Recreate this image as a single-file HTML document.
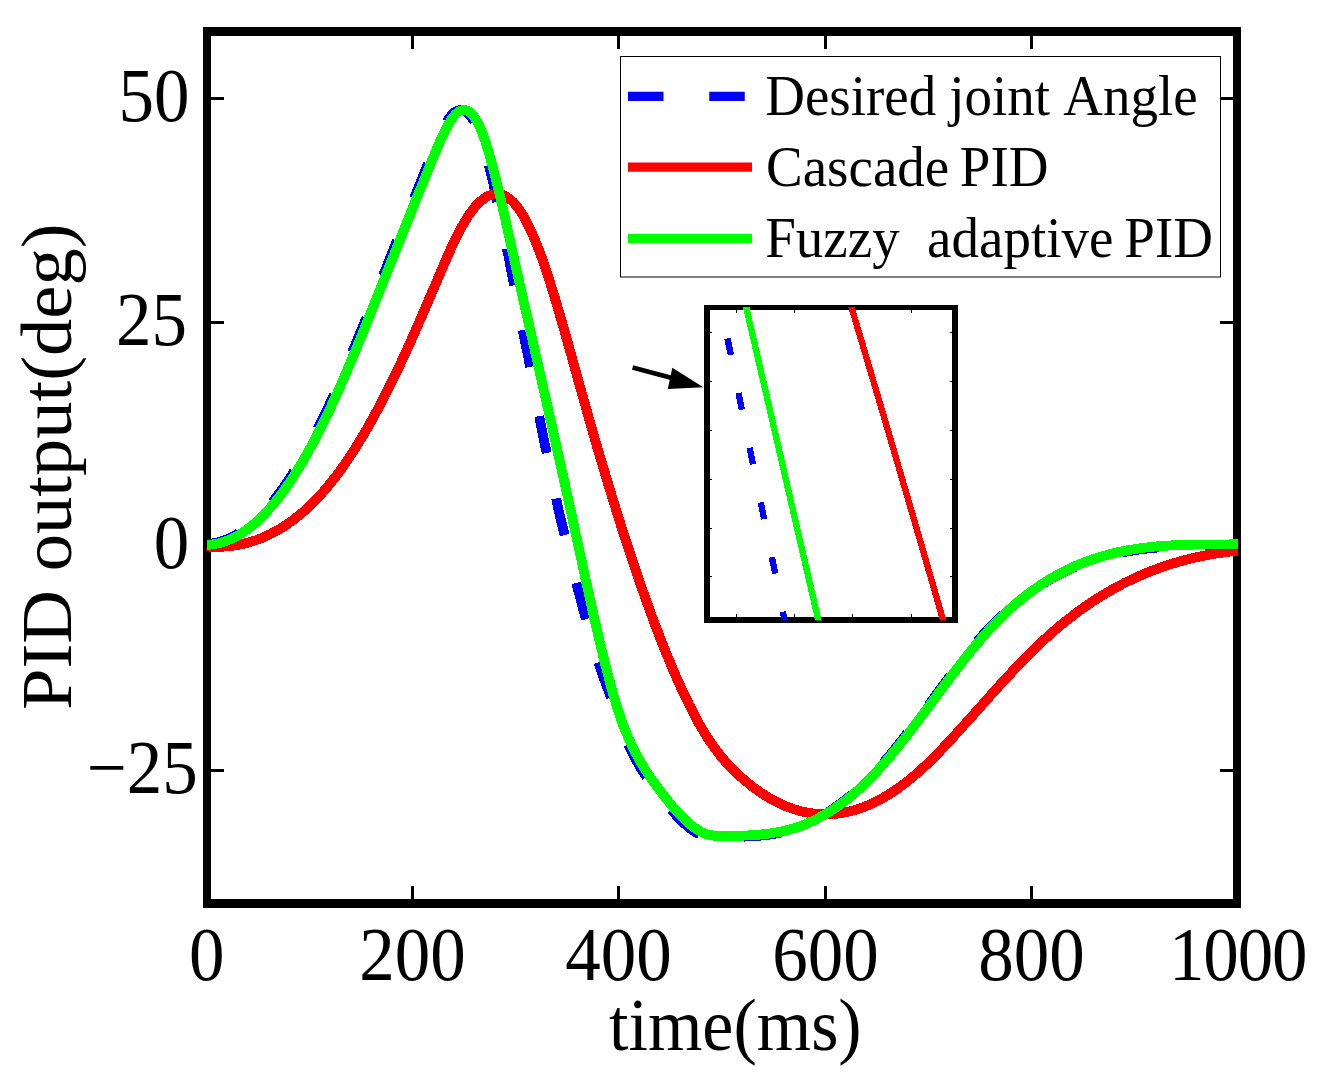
<!DOCTYPE html>
<html><head><meta charset="utf-8"><title>PID output</title>
<style>
html,body{margin:0;padding:0;background:#fff;}
body{width:1324px;height:1073px;overflow:hidden;font-family:"Liberation Serif",serif;}
svg{display:block;}
text{font-family:"Liberation Serif",serif;fill:#000;}
</style></head><body>
<svg width="1324" height="1073" viewBox="0 0 1324 1073">
<rect width="1324" height="1073" fill="#fff"/>

<g fill="#000">
<rect x="203" y="27" width="1038" height="9"/>
<rect x="203" y="899" width="1038" height="9"/>
<rect x="203" y="27" width="8" height="881"/>
<rect x="1233" y="27" width="8" height="881"/>
<rect x="411.0" y="36" width="3" height="13"/>
<rect x="411.0" y="886" width="3" height="13"/>
<rect x="617.0" y="36" width="3" height="13"/>
<rect x="617.0" y="886" width="3" height="13"/>
<rect x="824.0" y="36" width="3" height="13"/>
<rect x="824.0" y="886" width="3" height="13"/>
<rect x="1030.0" y="36" width="3" height="13"/>
<rect x="1030.0" y="886" width="3" height="13"/>
<rect x="211" y="97.0" width="13" height="3"/>
<rect x="1220" y="97.0" width="13" height="3"/>
<rect x="211" y="321.0" width="13" height="3"/>
<rect x="1220" y="321.0" width="13" height="3"/>
<rect x="211" y="545.0" width="13" height="3"/>
<rect x="1220" y="545.0" width="13" height="3"/>
<rect x="211" y="769.0" width="13" height="3"/>
<rect x="1220" y="769.0" width="13" height="3"/>
</g>
<defs><clipPath id="ax"><rect x="206.5" y="31.5" width="1031.5" height="872"/></clipPath><clipPath id="in"><rect x="707" y="307" width="248" height="313.5"/></clipPath></defs>
<g clip-path="url(#ax)" fill="none" stroke-linejoin="round" shape-rendering="crispEdges">
<path d="M206.7,543.9 L207.8,543.9 L208.9,543.8 L210.0,543.7 L211.1,543.6 L212.2,543.4 L213.3,543.3 L214.4,543.1 L215.5,542.8 L216.6,542.6 L217.7,542.4 L218.9,542.1 L220.0,541.8 L221.1,541.4 L222.2,541.1 L223.3,540.7 L224.4,540.3 L225.5,539.9 L226.6,539.5 L227.7,539.0 L228.8,538.5 L229.9,538.0 L231.0,537.5 L232.1,536.9 L233.2,536.4 L234.3,535.8 L235.4,535.2 L236.5,534.5 L237.6,533.9 L238.7,533.2 L239.8,532.5 L240.9,531.7 L242.0,531.0 L243.2,530.2 L244.3,529.4 L245.4,528.6 L246.5,527.7 L247.6,526.8 L248.7,526.0 L249.8,525.0 L250.9,524.1 L252.0,523.1 L253.1,522.2 L254.2,521.1 L255.3,520.1 L256.4,519.1 L257.5,518.0 L258.6,516.9 L259.7,515.8 L260.9,514.7 L262.0,513.5 L263.1,512.4 L264.3,511.2 L265.4,510.0 L266.5,508.7 L267.7,507.5 L268.8,506.2 L269.9,504.9 L271.1,503.5 L272.2,502.2 L273.3,500.8 L274.5,499.4 L275.6,498.0 L276.7,496.6 L277.9,495.1 L279.0,493.6 L280.1,492.1 L281.3,490.5 L282.4,489.0 L283.5,487.4 L284.7,485.8 L285.8,484.1 L286.9,482.5 L288.1,480.8 L289.2,479.1 L290.3,477.3 L291.5,475.6 L292.6,473.8 L293.7,472.0 L294.9,470.2 L296.0,468.4 L297.1,466.5 L298.3,464.6 L299.4,462.7 L300.6,460.7 L301.7,458.7 L302.9,456.7 L304.0,454.7 L305.2,452.7 L306.3,450.6 L307.4,448.5 L308.6,446.4 L309.7,444.3 L310.9,442.1 L312.0,439.9 L313.2,437.8 L314.3,435.6 L315.5,433.3 L316.6,431.1 L317.8,428.8 L318.9,426.5 L320.1,424.2 L321.2,421.9 L322.4,419.5 L323.5,417.2 L324.7,414.8 L325.8,412.4 L326.9,410.0 L328.1,407.5 L329.2,405.1 L330.4,402.6 L331.5,400.1 L332.7,397.6 L333.8,395.0 L335.0,392.5 L336.1,389.9 L337.3,387.3 L338.4,384.8 L339.6,382.1 L340.7,379.5 L341.9,376.9 L343.0,374.2 L344.2,371.5 L345.3,368.8 L346.4,366.2 L347.6,363.4 L348.7,360.7 L349.9,358.0 L351.0,355.2 L352.2,352.5 L353.3,349.7 L354.5,346.9 L355.6,344.1 L356.8,341.4 L357.9,338.5 L359.1,335.7 L360.2,332.9 L361.4,330.1 L362.5,327.3 L363.7,324.4 L364.8,321.6 L366.0,318.7 L367.1,315.9 L368.2,313.0 L369.4,310.1 L370.5,307.3 L371.7,304.4 L372.8,301.5 L374.0,298.6 L375.1,295.8 L376.3,292.9 L377.4,290.0 L378.6,287.1 L379.7,284.2 L380.9,281.3 L382.0,278.5 L383.2,275.6 L384.3,272.7 L385.5,269.8 L386.6,267.0 L387.7,264.1 L388.9,261.2 L390.0,258.3 L391.2,255.5 L392.3,252.6 L393.5,249.7 L394.6,246.9 L395.8,244.0 L396.9,241.1 L398.1,238.3 L399.2,235.4 L400.4,232.6 L401.5,229.7 L402.7,226.8 L403.8,224.0 L405.0,221.1 L406.1,218.3 L407.2,215.4 L408.4,212.6 L409.5,209.8 L410.7,206.9 L411.8,204.1 L413.0,201.2 L414.1,198.4 L415.3,195.5 L416.4,192.7 L417.6,189.9 L418.7,187.0 L419.9,184.2 L421.0,181.4 L422.1,178.5 L423.3,175.7 L424.4,172.9 L425.5,170.0 L426.7,167.2 L427.8,164.4 L428.9,161.5 L430.0,158.7 L431.2,155.9 L432.3,153.1 L433.4,150.3 L434.6,147.6 L435.7,144.9 L436.8,142.3 L438.0,139.6 L439.1,137.1 L440.2,134.6 L441.3,132.2 L442.5,129.9 L443.6,127.7 L444.7,125.5 L445.9,123.5 L447.0,121.6 L448.1,119.8 L449.2,118.1 L450.4,116.6 L451.5,115.2 L452.6,113.9 L453.8,112.9 L454.9,112.0 L456.1,111.3 L457.2,110.8 L458.4,110.4 L459.5,110.1 L460.7,110.0 L461.8,110.1 L463.0,110.3 L464.1,110.7 L465.3,111.2 L466.4,112.0 L467.5,112.9 L468.7,114.0 L469.8,115.2 L471.0,116.7 L472.1,118.3 L473.3,120.1 L474.4,122.2 L475.6,124.4 L476.7,126.8 L477.9,129.5 L479.0,132.3 L480.2,135.3 L481.3,138.5 L482.4,141.9 L483.5,145.4 L484.6,149.1 L485.7,153.0 L486.7,156.9 L487.8,161.1 L488.9,165.3 L490.0,169.7 L491.1,174.1 L492.2,178.7 L493.3,183.4 L494.3,188.1 L495.4,192.9 L496.5,197.8 L497.5,202.7 L498.6,207.7 L499.6,212.8 L500.7,217.8 L501.7,222.9 L502.8,228.1 L503.8,233.2 L504.9,238.3 L505.9,243.5 L506.9,248.6 L508.0,253.8 L509.0,258.9 L510.0,264.0 L510.9,269.2 L511.9,274.3 L512.9,279.4 L513.9,284.5 L514.9,289.6 L515.8,294.7 L516.8,299.8 L517.8,304.8 L518.8,309.9 L519.8,314.9 L520.7,320.0 L521.7,325.1 L522.7,330.1 L523.7,335.2 L524.8,340.2 L525.8,345.3 L526.9,350.3 L527.9,355.4 L528.9,360.4 L529.8,365.5 L530.8,370.5 L531.7,375.6 L532.7,380.7 L533.6,385.7 L534.6,390.8 L535.5,395.9 L536.5,400.9 L537.4,406.0 L538.4,411.1 L539.3,416.2 L540.2,421.3 L541.2,426.4 L542.1,431.5 L543.2,436.6 L544.3,441.7 L545.4,446.9 L546.5,452.0 L547.6,457.1 L548.7,462.3 L549.7,467.4 L550.8,472.6 L551.9,477.8 L553.0,483.0 L554.1,488.2 L555.2,493.4 L556.2,498.6 L557.3,503.8 L558.4,509.0 L559.5,514.3 L560.8,519.5 L562.1,524.8 L563.4,530.1 L564.7,535.4 L566.0,540.7 L567.3,546.0 L568.6,551.3 L569.9,556.6 L571.2,561.8 L572.5,567.1 L573.8,572.4 L575.1,577.7 L576.4,582.9 L577.7,588.1 L579.0,593.3 L580.4,598.5 L581.7,603.7 L583.1,608.8 L584.5,613.9 L585.9,618.9 L587.3,623.9 L588.7,628.9 L590.1,633.8 L591.5,638.7 L592.9,643.6 L594.3,648.3 L595.7,653.1 L597.1,657.8 L598.5,662.4 L599.9,666.9 L601.5,671.4 L603.0,675.8 L604.6,680.2 L606.2,684.4 L607.7,688.6 L609.3,692.7 L610.5,696.7 L611.7,700.7 L612.8,704.5 L614.0,708.2 L615.2,711.8 L616.4,715.3 L617.6,718.7 L618.7,722.0 L619.9,725.1 L621.1,728.1 L622.3,731.1 L623.5,733.9 L624.6,736.7 L625.8,739.3 L627.0,741.9 L628.2,744.4 L629.3,746.9 L630.5,749.3 L631.7,751.7 L632.8,754.0 L634.0,756.2 L635.2,758.4 L636.3,760.5 L637.5,762.5 L638.7,764.6 L639.8,766.5 L641.0,768.5 L642.2,770.4 L643.3,772.2 L644.5,774.0 L645.7,775.8 L646.8,777.5 L648.0,779.3 L649.2,781.0 L650.3,782.6 L651.5,784.3 L652.7,785.9 L653.8,787.5 L655.0,789.1 L656.2,790.7 L657.3,792.3 L658.5,793.8 L659.7,795.4 L660.8,796.9 L662.0,798.4 L663.2,799.9 L664.3,801.3 L665.5,802.8 L666.6,804.2 L667.8,805.7 L669.0,807.1 L670.1,808.4 L671.3,809.8 L672.5,811.2 L673.6,812.5 L674.8,813.8 L676.0,815.1 L677.1,816.3 L678.3,817.6 L679.5,818.8 L680.6,820.0 L681.8,821.1 L682.9,822.2 L684.1,823.3 L685.3,824.4 L686.4,825.4 L687.6,826.4 L688.8,827.4 L689.9,828.3 L691.1,829.2 L692.3,830.0 L693.5,830.8 L694.6,831.5 L695.8,832.2 L697.0,832.8 L698.2,833.4 L699.4,833.9 L700.5,834.5 L701.7,834.9 L702.9,835.4 L704.1,835.7 L705.3,836.1 L706.4,836.4 L707.6,836.6 L708.8,836.9 L710.0,837.0 L711.1,837.2 L712.3,837.3 L713.5,837.4 L714.7,837.5 L715.9,837.5 L717.0,837.5 L718.2,837.5 L719.4,837.5 L720.6,837.5 L721.8,837.4 L722.9,837.4 L724.1,837.3 L725.3,837.2 L726.5,837.2 L727.7,837.1 L728.8,837.0 L730.0,837.0 L731.2,837.0 L732.4,837.0 L733.5,836.9 L734.7,836.9 L735.9,836.9 L737.1,836.8 L738.2,836.8 L739.4,836.8 L740.6,836.7 L741.8,836.7 L742.9,836.6 L744.1,836.6 L745.3,836.6 L746.5,836.5 L747.6,836.5 L748.8,836.4 L750.0,836.3 L751.2,836.3 L752.3,836.2 L753.5,836.1 L754.7,836.1 L755.9,836.0 L757.0,835.9 L758.2,835.8 L759.4,835.7 L760.6,835.6 L761.7,835.5 L762.9,835.4 L764.1,835.3 L765.3,835.2 L766.4,835.0 L767.6,834.9 L768.8,834.8 L770.0,834.6 L771.1,834.4 L772.2,834.2 L773.3,834.0 L774.5,833.8 L775.6,833.6 L776.7,833.4 L777.9,833.2 L779.0,832.9 L780.1,832.7 L781.3,832.4 L782.4,832.2 L783.5,831.9 L784.6,831.6 L785.8,831.3 L786.9,831.0 L788.0,830.7 L789.2,830.4 L790.3,830.0 L791.4,829.7 L792.5,829.3 L793.7,829.0 L794.8,828.6 L795.9,828.2 L797.1,827.8 L798.2,827.4 L799.3,827.0 L800.5,826.5 L801.6,826.1 L802.7,825.6 L803.8,825.1 L805.0,824.7 L806.1,824.2 L807.2,823.7 L808.4,823.1 L809.5,822.6 L810.6,822.1 L811.8,821.5 L812.9,820.9 L814.0,820.4 L815.1,819.8 L816.3,819.2 L817.4,818.6 L818.5,817.9 L819.7,817.3 L820.8,816.7 L821.9,816.0 L823.0,815.3 L824.2,814.6 L825.3,813.9 L826.4,813.2 L827.6,812.5 L828.7,811.8 L829.8,811.0 L831.0,810.3 L832.1,809.5 L833.2,808.7 L834.3,807.9 L835.5,807.1 L836.6,806.3 L837.8,805.5 L838.9,804.7 L840.1,803.8 L841.2,803.0 L842.4,802.1 L843.5,801.2 L844.7,800.3 L845.8,799.4 L847.0,798.5 L848.1,797.6 L849.3,796.6 L850.4,795.7 L851.6,794.7 L852.7,793.7 L853.8,792.7 L855.0,791.7 L856.1,790.7 L857.3,789.7 L858.4,788.6 L859.6,787.6 L860.7,786.5 L861.9,785.4 L863.0,784.3 L864.2,783.2 L865.3,782.1 L866.5,780.9 L867.6,779.8 L868.8,778.6 L869.9,777.4 L871.1,776.3 L872.2,775.1 L873.3,773.8 L874.5,772.6 L875.6,771.4 L876.8,770.1 L877.9,768.9 L879.1,767.6 L880.2,766.3 L881.4,765.0 L882.5,763.7 L883.7,762.4 L884.8,761.1 L886.0,759.7 L887.1,758.4 L888.3,757.0 L889.4,755.7 L890.6,754.3 L891.7,752.9 L892.9,751.5 L894.0,750.1 L895.1,748.7 L896.3,747.3 L897.4,745.9 L898.6,744.5 L899.7,743.0 L900.9,741.6 L902.0,740.1 L903.2,738.7 L904.3,737.2 L905.5,735.7 L906.6,734.2 L907.8,732.8 L908.9,731.3 L910.1,729.8 L911.2,728.3 L912.4,726.8 L913.5,725.2 L914.6,723.7 L915.8,722.2 L916.9,720.7 L918.1,719.2 L919.2,717.6 L920.4,716.1 L921.5,714.6 L922.7,713.0 L923.8,711.5 L925.0,709.9 L926.1,708.4 L927.3,706.8 L928.4,705.3 L929.6,703.7 L930.7,702.2 L931.9,700.6 L933.0,699.1 L934.1,697.5 L935.3,696.0 L936.4,694.4 L937.6,692.9 L938.7,691.3 L939.9,689.8 L941.0,688.2 L942.2,686.7 L943.3,685.1 L944.5,683.6 L945.6,682.0 L946.8,680.5 L947.9,679.0 L949.1,677.4 L950.2,675.9 L951.4,674.4 L952.5,672.9 L953.7,671.4 L954.8,669.9 L955.9,668.4 L957.1,666.9 L958.2,665.4 L959.4,663.9 L960.5,662.4 L961.7,660.9 L962.8,659.4 L964.0,658.0 L965.1,656.5 L966.3,655.1 L967.4,653.6 L968.6,652.2 L969.7,650.8 L970.9,649.4 L972.0,648.0 L973.2,646.6 L974.3,645.2 L975.4,643.8 L976.6,642.4 L977.7,641.0 L978.9,639.7 L980.0,638.4 L981.2,637.0 L982.3,635.7 L983.5,634.4 L984.6,633.1 L985.8,631.9 L987.0,630.6 L988.1,629.4 L989.3,628.1 L990.5,626.9 L991.6,625.7 L992.8,624.5 L993.9,623.3 L995.1,622.2 L996.3,621.0 L997.4,619.8 L998.6,618.7 L999.7,617.6 L1000.9,616.5 L1002.1,615.4 L1003.2,614.3 L1004.4,613.2 L1005.6,612.1 L1006.7,611.1 L1007.9,610.0 L1009.0,609.0 L1010.2,608.0 L1011.4,607.0 L1012.5,606.0 L1013.7,605.0 L1014.9,604.0 L1016.0,603.1 L1017.2,602.1 L1018.3,601.2 L1019.5,600.2 L1020.7,599.3 L1021.8,598.4 L1023.0,597.5 L1024.2,596.6 L1025.3,595.7 L1026.5,594.8 L1027.6,594.0 L1028.8,593.1 L1030.0,592.3 L1031.1,591.5 L1032.3,590.6 L1033.5,589.8 L1034.6,589.0 L1035.8,588.3 L1036.9,587.5 L1038.1,586.7 L1039.3,585.9 L1040.4,585.2 L1041.6,584.4 L1042.8,583.7 L1043.9,583.0 L1045.1,582.3 L1046.2,581.6 L1047.4,580.9 L1048.6,580.2 L1049.7,579.5 L1050.9,578.8 L1052.1,578.2 L1053.2,577.5 L1054.4,576.9 L1055.5,576.3 L1056.7,575.6 L1057.9,575.0 L1059.0,574.4 L1060.2,573.8 L1061.3,573.2 L1062.5,572.7 L1063.6,572.1 L1064.8,571.5 L1065.9,571.0 L1067.1,570.4 L1068.2,569.9 L1069.4,569.3 L1070.5,568.8 L1071.7,568.3 L1072.8,567.8 L1074.0,567.3 L1075.1,566.8 L1076.2,566.3 L1077.4,565.8 L1078.5,565.4 L1079.7,564.9 L1080.8,564.5 L1082.0,564.0 L1083.1,563.6 L1084.3,563.1 L1085.4,562.7 L1086.6,562.3 L1087.7,561.9 L1088.9,561.5 L1090.0,561.1 L1091.2,560.7 L1092.3,560.3 L1093.5,559.9 L1094.6,559.6 L1095.8,559.2 L1096.9,558.9 L1098.0,558.5 L1099.2,558.2 L1100.3,557.8 L1101.5,557.5 L1102.6,557.2 L1103.8,556.9 L1104.9,556.6 L1106.1,556.3 L1107.2,556.0 L1108.4,555.7 L1109.5,555.4 L1110.7,555.1 L1111.8,554.8 L1113.0,554.6 L1114.1,554.3 L1115.3,554.0 L1116.4,553.8 L1117.5,553.5 L1118.7,553.3 L1119.8,553.0 L1121.0,552.8 L1122.1,552.6 L1123.3,552.3 L1124.4,552.1 L1125.6,551.9 L1126.7,551.6 L1127.9,551.4 L1129.0,551.2 L1130.2,551.0 L1131.3,550.8 L1132.5,550.6 L1133.6,550.4 L1134.8,550.3 L1135.9,550.1 L1137.0,549.9 L1138.2,549.7 L1139.3,549.6 L1140.5,549.4 L1141.6,549.2 L1142.8,549.1 L1143.9,548.9 L1145.1,548.8 L1146.2,548.7 L1147.4,548.5 L1148.5,548.4 L1149.7,548.3 L1150.8,548.1 L1152.0,548.0 L1153.1,547.9 L1154.3,547.8 L1155.4,547.7 L1156.6,547.6 L1157.7,547.5 L1158.8,547.4 L1160.0,547.3 L1161.1,547.2 L1162.3,547.1 L1163.4,547.0 L1164.6,546.9 L1165.7,546.8 L1166.9,546.7 L1168.0,546.7 L1169.2,546.6 L1170.3,546.5 L1171.5,546.5 L1172.6,546.4 L1173.8,546.3 L1174.9,546.3 L1176.1,546.2 L1177.2,546.2 L1178.3,546.1 L1179.5,546.1 L1180.6,546.0 L1181.8,546.0 L1182.9,545.9 L1184.1,545.9 L1185.2,545.9 L1186.4,545.8 L1187.5,545.8 L1188.7,545.8 L1189.8,545.7 L1191.0,545.7 L1192.1,545.7 L1193.3,545.7 L1194.4,545.6 L1195.6,545.6 L1196.7,545.6 L1197.8,545.6 L1199.0,545.6 L1200.1,545.5 L1201.3,545.5 L1202.4,545.5 L1203.6,545.5 L1204.7,545.5 L1205.9,545.5 L1207.0,545.5 L1208.2,545.5 L1209.3,545.4 L1210.5,545.4 L1211.6,545.4 L1212.8,545.4 L1213.9,545.4 L1215.1,545.4 L1216.2,545.4 L1217.4,545.4 L1218.5,545.4 L1219.6,545.4 L1220.8,545.4 L1221.9,545.4 L1223.1,545.4 L1224.2,545.4 L1225.4,545.4 L1226.5,545.4 L1227.7,545.4 L1228.8,545.4 L1230.0,545.4 L1231.1,545.4 L1232.3,545.4 L1233.4,545.3 L1234.6,545.3 L1235.7,545.3 L1236.9,545.3 L1238.0,545.3" stroke="#0000ff" stroke-width="9.8" stroke-dasharray="34.0 46.0 37.5 49.1 37.5 46.2 37.5 45.4 37.5 45.7 37.5 46.1 37.5 46.1 37.5 47.7 37.5 45.5 37.5 50.2 37.5 46.6 37.5 49.2 37.5 45.0 37.5 49.8 37.5 41.1 37.5 44.6 37.5 44.6 37.5 44.6 37.5 35.1 37.5 43.5 37.5 48.9 37.5 48.9 37.5 46.5 37.5 46.5 37.5 300"/>
<path d="M206.7,546.4 L207.8,546.5 L209.0,546.6 L210.1,546.6 L211.3,546.7 L212.4,546.7 L213.6,546.8 L214.7,546.8 L215.9,546.8 L217.0,546.8 L218.2,546.8 L219.3,546.8 L220.5,546.7 L221.6,546.7 L222.8,546.6 L223.9,546.6 L225.1,546.5 L226.2,546.4 L227.3,546.3 L228.5,546.2 L229.6,546.1 L230.8,546.0 L231.9,545.8 L233.1,545.7 L234.2,545.5 L235.4,545.3 L236.5,545.2 L237.7,545.0 L238.8,544.7 L240.0,544.5 L241.1,544.3 L242.3,544.0 L243.4,543.8 L244.6,543.5 L245.7,543.2 L246.9,542.9 L248.0,542.6 L249.1,542.3 L250.3,542.0 L251.4,541.7 L252.6,541.3 L253.7,540.9 L254.9,540.5 L256.0,540.2 L257.2,539.7 L258.3,539.3 L259.5,538.9 L260.6,538.5 L261.8,538.0 L262.9,537.5 L264.1,537.0 L265.2,536.5 L266.4,536.0 L267.5,535.5 L268.6,534.9 L269.8,534.4 L270.9,533.8 L272.1,533.2 L273.2,532.6 L274.4,532.0 L275.5,531.4 L276.7,530.8 L277.8,530.1 L279.0,529.4 L280.1,528.8 L281.3,528.1 L282.4,527.4 L283.6,526.6 L284.7,525.9 L285.9,525.1 L287.0,524.3 L288.1,523.6 L289.3,522.8 L290.4,521.9 L291.6,521.1 L292.7,520.3 L293.9,519.4 L295.0,518.5 L296.2,517.6 L297.3,516.7 L298.5,515.8 L299.6,514.8 L300.8,513.9 L301.9,512.9 L303.1,511.9 L304.2,510.9 L305.4,509.9 L306.5,508.8 L307.7,507.8 L308.8,506.7 L309.9,505.6 L311.1,504.5 L312.2,503.4 L313.4,502.2 L314.5,501.1 L315.7,499.9 L316.8,498.7 L318.0,497.5 L319.1,496.2 L320.3,495.0 L321.4,493.7 L322.6,492.5 L323.7,491.2 L324.9,489.8 L326.0,488.5 L327.2,487.2 L328.3,485.8 L329.4,484.4 L330.6,483.0 L331.7,481.6 L332.9,480.1 L334.0,478.7 L335.2,477.2 L336.3,475.7 L337.5,474.2 L338.6,472.6 L339.8,471.1 L340.9,469.5 L342.1,467.9 L343.2,466.3 L344.4,464.7 L345.5,463.0 L346.7,461.3 L347.8,459.6 L348.9,457.9 L350.1,456.2 L351.2,454.5 L352.4,452.7 L353.5,450.9 L354.7,449.1 L355.8,447.3 L357.0,445.5 L358.1,443.6 L359.3,441.7 L360.4,439.8 L361.6,437.9 L362.7,436.0 L363.9,434.1 L365.0,432.1 L366.2,430.1 L367.3,428.1 L368.5,426.1 L369.6,424.1 L370.7,422.0 L371.9,420.0 L373.0,417.9 L374.2,415.8 L375.3,413.7 L376.5,411.6 L377.6,409.4 L378.8,407.3 L379.9,405.1 L381.1,402.9 L382.2,400.7 L383.4,398.5 L384.5,396.2 L385.7,394.0 L386.8,391.7 L388.0,389.4 L389.1,387.1 L390.2,384.8 L391.4,382.5 L392.5,380.2 L393.7,377.8 L394.8,375.4 L396.0,373.1 L397.1,370.7 L398.3,368.3 L399.4,365.8 L400.6,363.4 L401.7,361.0 L402.9,358.5 L404.0,356.0 L405.2,353.5 L406.3,351.0 L407.5,348.5 L408.6,346.0 L409.7,343.5 L410.9,340.9 L412.0,338.3 L413.2,335.8 L414.3,333.2 L415.5,330.6 L416.6,328.0 L417.8,325.4 L418.9,322.8 L420.1,320.1 L421.2,317.5 L422.4,314.9 L423.5,312.2 L424.7,309.6 L425.8,306.9 L427.0,304.2 L428.1,301.6 L429.2,298.9 L430.4,296.2 L431.5,293.5 L432.7,290.8 L433.8,288.1 L435.0,285.5 L436.1,282.8 L437.3,280.1 L438.4,277.4 L439.6,274.7 L440.7,272.0 L441.9,269.3 L443.0,266.6 L444.2,263.9 L445.3,261.3 L446.5,258.7 L447.6,256.0 L448.8,253.4 L449.9,250.9 L451.0,248.4 L452.2,245.9 L453.3,243.4 L454.5,241.0 L455.6,238.6 L456.8,236.3 L457.9,234.0 L459.1,231.7 L460.2,229.5 L461.4,227.4 L462.5,225.4 L463.7,223.4 L464.8,221.4 L466.0,219.6 L467.1,217.7 L468.3,216.0 L469.4,214.3 L470.5,212.7 L471.7,211.1 L472.8,209.6 L474.0,208.2 L475.1,206.8 L476.3,205.5 L477.4,204.3 L478.6,203.2 L479.7,202.1 L480.9,201.0 L482.0,200.1 L483.2,199.2 L484.3,198.4 L485.5,197.6 L486.6,196.9 L487.8,196.3 L488.9,195.8 L490.0,195.3 L491.2,194.9 L492.3,194.6 L493.5,194.4 L494.6,194.2 L495.8,194.1 L496.9,194.0 L498.1,194.1 L499.2,194.2 L500.4,194.4 L501.5,194.7 L502.7,195.0 L503.8,195.5 L505.0,196.0 L506.1,196.6 L507.3,197.3 L508.4,198.0 L509.6,198.9 L510.7,199.8 L511.8,200.8 L513.0,201.9 L514.1,203.1 L515.3,204.4 L516.4,205.8 L517.6,207.2 L518.7,208.8 L519.9,210.4 L521.0,212.2 L522.2,214.0 L523.3,215.9 L524.5,217.9 L525.6,220.0 L526.8,222.2 L527.9,224.4 L529.1,226.8 L530.2,229.2 L531.3,231.7 L532.5,234.3 L533.6,236.9 L534.8,239.7 L535.9,242.5 L537.1,245.4 L538.2,248.3 L539.4,251.3 L540.5,254.4 L541.7,257.5 L542.8,260.8 L544.0,264.0 L545.1,267.4 L546.3,270.8 L547.4,274.2 L548.6,277.7 L549.7,281.3 L550.8,284.9 L552.0,288.6 L553.1,292.3 L554.3,296.1 L555.4,299.9 L556.6,303.7 L557.7,307.6 L558.9,311.5 L560.0,315.5 L561.2,319.5 L562.3,323.5 L563.5,327.5 L564.6,331.5 L565.8,335.6 L566.9,339.7 L568.1,343.8 L569.2,347.9 L570.4,352.0 L571.5,356.1 L572.6,360.3 L573.8,364.4 L574.9,368.5 L576.1,372.6 L577.2,376.7 L578.4,380.9 L579.5,385.0 L580.7,389.1 L581.8,393.2 L583.0,397.3 L584.1,401.4 L585.3,405.4 L586.4,409.5 L587.6,413.5 L588.7,417.6 L589.9,421.6 L591.0,425.6 L592.1,429.6 L593.3,433.6 L594.4,437.6 L595.6,441.5 L596.7,445.5 L597.9,449.4 L599.0,453.3 L600.2,457.2 L601.3,461.1 L602.5,465.0 L603.6,468.8 L604.8,472.7 L605.9,476.5 L607.1,480.3 L608.2,484.1 L609.4,487.9 L610.5,491.7 L611.6,495.4 L612.8,499.2 L613.9,502.9 L615.1,506.6 L616.2,510.3 L617.4,514.0 L618.5,517.6 L619.7,521.3 L620.8,524.9 L622.0,528.5 L623.1,532.1 L624.3,535.7 L625.4,539.2 L626.6,542.7 L627.7,546.3 L628.9,549.8 L630.0,553.3 L631.2,556.7 L632.3,560.2 L633.4,563.6 L634.6,567.0 L635.7,570.4 L636.9,573.8 L638.0,577.1 L639.2,580.5 L640.3,583.8 L641.5,587.1 L642.6,590.4 L643.8,593.6 L644.9,596.9 L646.1,600.1 L647.2,603.3 L648.4,606.5 L649.5,609.6 L650.7,612.7 L651.8,615.9 L652.9,619.0 L654.1,622.0 L655.2,625.1 L656.4,628.1 L657.5,631.1 L658.7,634.1 L659.8,637.1 L661.0,640.0 L662.1,642.9 L663.3,645.8 L664.4,648.7 L665.6,651.6 L666.7,654.4 L667.9,657.2 L669.0,660.0 L670.2,662.7 L671.3,665.5 L672.4,668.2 L673.6,670.9 L674.7,673.5 L675.9,676.2 L677.0,678.8 L678.2,681.4 L679.3,683.9 L680.5,686.5 L681.6,689.0 L682.8,691.5 L683.9,693.9 L685.1,696.4 L686.2,698.8 L687.4,701.1 L688.5,703.5 L689.7,705.8 L690.8,708.1 L692.0,710.3 L693.1,712.6 L694.2,714.8 L695.4,716.9 L696.5,719.0 L697.7,721.1 L698.8,723.2 L700.0,725.2 L701.1,727.2 L702.3,729.2 L703.4,731.1 L704.6,733.0 L705.7,734.9 L706.9,736.7 L708.0,738.5 L709.2,740.2 L710.3,742.0 L711.5,743.6 L712.6,745.3 L713.7,746.9 L714.9,748.5 L716.0,750.0 L717.2,751.5 L718.3,753.0 L719.5,754.4 L720.6,755.9 L721.8,757.3 L722.9,758.6 L724.1,760.0 L725.2,761.3 L726.4,762.6 L727.5,763.8 L728.7,765.1 L729.8,766.3 L731.0,767.5 L732.1,768.6 L733.2,769.8 L734.4,770.9 L735.5,772.0 L736.7,773.1 L737.8,774.2 L739.0,775.2 L740.1,776.3 L741.3,777.3 L742.4,778.3 L743.6,779.3 L744.7,780.3 L745.9,781.3 L747.0,782.2 L748.2,783.2 L749.3,784.1 L750.5,785.0 L751.6,785.9 L752.7,786.8 L753.9,787.7 L755.0,788.5 L756.2,789.4 L757.3,790.2 L758.5,791.0 L759.6,791.8 L760.8,792.6 L761.9,793.4 L763.1,794.1 L764.2,794.8 L765.4,795.6 L766.5,796.3 L767.7,797.0 L768.8,797.7 L770.0,798.3 L771.1,799.0 L772.3,799.6 L773.4,800.3 L774.5,800.9 L775.7,801.5 L776.8,802.1 L778.0,802.7 L779.1,803.2 L780.3,803.8 L781.4,804.3 L782.6,804.8 L783.7,805.3 L784.9,805.8 L786.0,806.3 L787.2,806.7 L788.3,807.2 L789.5,807.6 L790.6,808.0 L791.8,808.5 L792.9,808.8 L794.0,809.2 L795.2,809.6 L796.3,809.9 L797.5,810.3 L798.6,810.6 L799.8,810.9 L800.9,811.2 L802.1,811.5 L803.2,811.8 L804.4,812.0 L805.5,812.3 L806.7,812.5 L807.8,812.7 L809.0,812.9 L810.1,813.1 L811.3,813.3 L812.4,813.4 L813.5,813.6 L814.7,813.7 L815.8,813.8 L817.0,813.9 L818.1,814.0 L819.3,814.1 L820.4,814.2 L821.6,814.2 L822.7,814.3 L823.9,814.3 L825.0,814.3 L826.2,814.3 L827.3,814.3 L828.5,814.3 L829.6,814.2 L830.8,814.2 L831.9,814.1 L833.1,814.0 L834.2,813.9 L835.3,813.8 L836.5,813.7 L837.6,813.6 L838.8,813.4 L839.9,813.2 L841.1,813.1 L842.2,812.9 L843.4,812.7 L844.5,812.5 L845.7,812.2 L846.8,812.0 L848.0,811.8 L849.1,811.5 L850.3,811.2 L851.4,810.9 L852.6,810.6 L853.7,810.3 L854.8,810.0 L856.0,809.6 L857.1,809.3 L858.3,808.9 L859.4,808.5 L860.6,808.1 L861.7,807.7 L862.9,807.3 L864.0,806.9 L865.2,806.4 L866.3,806.0 L867.5,805.5 L868.6,805.0 L869.8,804.5 L870.9,804.0 L872.1,803.5 L873.2,802.9 L874.3,802.4 L875.5,801.8 L876.6,801.3 L877.8,800.7 L878.9,800.1 L880.1,799.5 L881.2,798.9 L882.4,798.2 L883.5,797.6 L884.7,796.9 L885.8,796.2 L887.0,795.6 L888.1,794.9 L889.3,794.2 L890.4,793.4 L891.6,792.7 L892.7,791.9 L893.9,791.2 L895.0,790.4 L896.1,789.6 L897.3,788.8 L898.4,788.0 L899.6,787.2 L900.7,786.4 L901.9,785.5 L903.0,784.7 L904.2,783.8 L905.3,782.9 L906.5,782.0 L907.6,781.1 L908.8,780.2 L909.9,779.3 L911.1,778.4 L912.2,777.4 L913.4,776.4 L914.5,775.5 L915.6,774.5 L916.8,773.5 L917.9,772.5 L919.1,771.4 L920.2,770.4 L921.4,769.4 L922.5,768.3 L923.7,767.2 L924.8,766.2 L926.0,765.1 L927.1,764.0 L928.3,762.9 L929.4,761.8 L930.6,760.6 L931.7,759.5 L932.9,758.4 L934.0,757.2 L935.1,756.1 L936.3,754.9 L937.4,753.7 L938.6,752.5 L939.7,751.4 L940.9,750.2 L942.0,749.0 L943.2,747.8 L944.3,746.6 L945.5,745.3 L946.6,744.1 L947.8,742.9 L948.9,741.7 L950.1,740.4 L951.2,739.2 L952.4,737.9 L953.5,736.7 L954.7,735.4 L955.8,734.2 L956.9,732.9 L958.1,731.7 L959.2,730.4 L960.4,729.1 L961.5,727.9 L962.7,726.6 L963.8,725.3 L965.0,724.0 L966.1,722.8 L967.3,721.5 L968.4,720.2 L969.6,718.9 L970.7,717.6 L971.9,716.3 L973.0,715.1 L974.2,713.8 L975.3,712.5 L976.4,711.2 L977.6,709.9 L978.7,708.6 L979.9,707.3 L981.0,706.1 L982.2,704.8 L983.3,703.5 L984.5,702.2 L985.6,700.9 L986.8,699.6 L987.9,698.4 L989.1,697.1 L990.2,695.8 L991.4,694.5 L992.5,693.2 L993.7,692.0 L994.8,690.7 L995.9,689.4 L997.1,688.2 L998.2,686.9 L999.4,685.6 L1000.5,684.4 L1001.7,683.1 L1002.8,681.9 L1004.0,680.6 L1005.1,679.4 L1006.3,678.1 L1007.4,676.9 L1008.6,675.6 L1009.7,674.4 L1010.9,673.2 L1012.0,671.9 L1013.2,670.7 L1014.3,669.5 L1015.5,668.3 L1016.6,667.1 L1017.7,665.8 L1018.9,664.6 L1020.0,663.5 L1021.2,662.3 L1022.3,661.1 L1023.5,659.9 L1024.6,658.7 L1025.8,657.5 L1026.9,656.4 L1028.1,655.2 L1029.2,654.1 L1030.4,652.9 L1031.5,651.8 L1032.7,650.7 L1033.8,649.5 L1035.0,648.4 L1036.1,647.3 L1037.2,646.2 L1038.4,645.1 L1039.5,644.0 L1040.7,642.9 L1041.8,641.8 L1043.0,640.8 L1044.1,639.7 L1045.3,638.7 L1046.4,637.6 L1047.6,636.6 L1048.7,635.5 L1049.9,634.5 L1051.0,633.5 L1052.2,632.5 L1053.3,631.5 L1054.5,630.5 L1055.6,629.5 L1056.7,628.5 L1057.9,627.6 L1059.0,626.6 L1060.2,625.6 L1061.3,624.7 L1062.5,623.7 L1063.6,622.8 L1064.8,621.9 L1065.9,621.0 L1067.1,620.1 L1068.2,619.1 L1069.4,618.3 L1070.5,617.4 L1071.7,616.5 L1072.8,615.6 L1074.0,614.7 L1075.1,613.9 L1076.2,613.0 L1077.4,612.2 L1078.5,611.3 L1079.7,610.5 L1080.8,609.7 L1082.0,608.8 L1083.1,608.0 L1084.3,607.2 L1085.4,606.4 L1086.6,605.6 L1087.7,604.8 L1088.9,604.0 L1090.0,603.3 L1091.2,602.5 L1092.3,601.7 L1093.5,601.0 L1094.6,600.2 L1095.8,599.5 L1096.9,598.8 L1098.0,598.0 L1099.2,597.3 L1100.3,596.6 L1101.5,595.9 L1102.6,595.2 L1103.8,594.5 L1104.9,593.8 L1106.1,593.1 L1107.2,592.4 L1108.4,591.8 L1109.5,591.1 L1110.7,590.5 L1111.8,589.8 L1113.0,589.2 L1114.1,588.5 L1115.3,587.9 L1116.4,587.3 L1117.5,586.6 L1118.7,586.0 L1119.8,585.4 L1121.0,584.8 L1122.1,584.2 L1123.3,583.6 L1124.4,583.0 L1125.6,582.5 L1126.7,581.9 L1127.9,581.3 L1129.0,580.8 L1130.2,580.2 L1131.3,579.7 L1132.5,579.1 L1133.6,578.6 L1134.8,578.0 L1135.9,577.5 L1137.0,577.0 L1138.2,576.5 L1139.3,576.0 L1140.5,575.5 L1141.6,575.0 L1142.8,574.5 L1143.9,574.0 L1145.1,573.5 L1146.2,573.0 L1147.4,572.6 L1148.5,572.1 L1149.7,571.7 L1150.8,571.2 L1152.0,570.7 L1153.1,570.3 L1154.3,569.9 L1155.4,569.4 L1156.6,569.0 L1157.7,568.6 L1158.8,568.2 L1160.0,567.8 L1161.1,567.4 L1162.3,567.0 L1163.4,566.6 L1164.6,566.2 L1165.7,565.8 L1166.9,565.4 L1168.0,565.0 L1169.2,564.7 L1170.3,564.3 L1171.5,563.9 L1172.6,563.6 L1173.8,563.2 L1174.9,562.9 L1176.1,562.5 L1177.2,562.2 L1178.3,561.9 L1179.5,561.6 L1180.6,561.2 L1181.8,560.9 L1182.9,560.6 L1184.1,560.3 L1185.2,560.0 L1186.4,559.7 L1187.5,559.4 L1188.7,559.1 L1189.8,558.8 L1191.0,558.6 L1192.1,558.3 L1193.3,558.0 L1194.4,557.7 L1195.6,557.5 L1196.7,557.2 L1197.8,557.0 L1199.0,556.7 L1200.1,556.5 L1201.3,556.2 L1202.4,556.0 L1203.6,555.8 L1204.7,555.6 L1205.9,555.3 L1207.0,555.1 L1208.2,554.9 L1209.3,554.7 L1210.5,554.5 L1211.6,554.3 L1212.8,554.1 L1213.9,553.9 L1215.1,553.7 L1216.2,553.5 L1217.4,553.4 L1218.5,553.2 L1219.6,553.0 L1220.8,552.8 L1221.9,552.7 L1223.1,552.5 L1224.2,552.4 L1225.4,552.2 L1226.5,552.0 L1227.7,551.9 L1228.8,551.8 L1230.0,551.6 L1231.1,551.5 L1232.3,551.4 L1233.4,551.2 L1234.6,551.1 L1235.7,551.0 L1236.9,550.9 L1238.0,550.8" stroke="#ff0000" stroke-width="9.8"/>
<path d="M206.7,544.9 L207.8,544.9 L209.0,544.8 L210.1,544.7 L211.3,544.6 L212.4,544.4 L213.6,544.3 L214.7,544.1 L215.9,543.8 L217.0,543.6 L218.2,543.4 L219.3,543.1 L220.5,542.8 L221.6,542.4 L222.8,542.1 L223.9,541.7 L225.1,541.3 L226.2,540.9 L227.3,540.5 L228.5,540.0 L229.6,539.5 L230.8,539.0 L231.9,538.5 L233.1,537.9 L234.2,537.4 L235.4,536.8 L236.5,536.2 L237.7,535.5 L238.8,534.9 L240.0,534.2 L241.1,533.5 L242.3,532.7 L243.4,532.0 L244.6,531.2 L245.7,530.4 L246.9,529.6 L248.0,528.7 L249.1,527.8 L250.3,527.0 L251.4,526.0 L252.6,525.1 L253.7,524.1 L254.9,523.2 L256.0,522.1 L257.2,521.1 L258.3,520.1 L259.5,519.0 L260.6,517.9 L261.8,516.8 L262.9,515.6 L264.1,514.4 L265.2,513.2 L266.4,512.0 L267.5,510.8 L268.6,509.5 L269.8,508.2 L270.9,506.9 L272.1,505.6 L273.2,504.2 L274.4,502.9 L275.5,501.4 L276.7,500.0 L277.8,498.6 L279.0,497.1 L280.1,495.6 L281.3,494.1 L282.4,492.5 L283.6,491.0 L284.7,489.4 L285.9,487.7 L287.0,486.1 L288.1,484.4 L289.3,482.7 L290.4,481.0 L291.6,479.3 L292.7,477.5 L293.9,475.8 L295.0,474.0 L296.2,472.1 L297.3,470.3 L298.5,468.4 L299.6,466.5 L300.8,464.6 L301.9,462.7 L303.1,460.7 L304.2,458.7 L305.4,456.7 L306.5,454.7 L307.7,452.7 L308.8,450.6 L309.9,448.5 L311.1,446.4 L312.2,444.3 L313.4,442.1 L314.5,439.9 L315.7,437.8 L316.8,435.6 L318.0,433.3 L319.1,431.1 L320.3,428.8 L321.4,426.5 L322.6,424.2 L323.7,421.9 L324.9,419.5 L326.0,417.2 L327.2,414.8 L328.3,412.4 L329.4,410.0 L330.6,407.5 L331.7,405.1 L332.9,402.6 L334.0,400.1 L335.2,397.6 L336.3,395.0 L337.5,392.5 L338.6,389.9 L339.8,387.3 L340.9,384.8 L342.1,382.1 L343.2,379.5 L344.4,376.9 L345.5,374.2 L346.7,371.5 L347.8,368.8 L348.9,366.2 L350.1,363.4 L351.2,360.7 L352.4,358.0 L353.5,355.2 L354.7,352.5 L355.8,349.7 L357.0,346.9 L358.1,344.1 L359.3,341.4 L360.4,338.5 L361.6,335.7 L362.7,332.9 L363.9,330.1 L365.0,327.3 L366.2,324.4 L367.3,321.6 L368.5,318.7 L369.6,315.9 L370.7,313.0 L371.9,310.1 L373.0,307.3 L374.2,304.4 L375.3,301.5 L376.5,298.6 L377.6,295.8 L378.8,292.9 L379.9,290.0 L381.1,287.1 L382.2,284.2 L383.4,281.3 L384.5,278.5 L385.7,275.6 L386.8,272.7 L388.0,269.8 L389.1,267.0 L390.2,264.1 L391.4,261.2 L392.5,258.3 L393.7,255.5 L394.8,252.6 L396.0,249.7 L397.1,246.9 L398.3,244.0 L399.4,241.1 L400.6,238.3 L401.7,235.4 L402.9,232.6 L404.0,229.7 L405.2,226.8 L406.3,224.0 L407.5,221.1 L408.6,218.3 L409.7,215.4 L410.9,212.6 L412.0,209.8 L413.2,206.9 L414.3,204.1 L415.5,201.2 L416.6,198.4 L417.8,195.5 L418.9,192.7 L420.1,189.9 L421.2,187.0 L422.4,184.2 L423.5,181.4 L424.7,178.6 L425.8,175.7 L427.0,172.9 L428.1,170.1 L429.2,167.3 L430.4,164.4 L431.5,161.6 L432.7,158.8 L433.8,156.0 L435.0,153.2 L436.1,150.5 L437.3,147.7 L438.4,145.0 L439.6,142.4 L440.7,139.8 L441.9,137.3 L443.0,134.8 L444.2,132.4 L445.3,130.1 L446.5,127.9 L447.6,125.8 L448.8,123.7 L449.9,121.8 L451.0,120.0 L452.2,118.4 L453.3,116.8 L454.5,115.5 L455.6,114.2 L456.8,113.2 L457.9,112.2 L459.1,111.5 L460.2,110.9 L461.4,110.4 L462.5,110.2 L463.7,110.0 L464.8,110.1 L466.0,110.3 L467.1,110.7 L468.3,111.2 L469.4,112.0 L470.5,112.9 L471.7,114.0 L472.8,115.2 L474.0,116.7 L475.1,118.3 L476.3,120.1 L477.4,122.2 L478.6,124.4 L479.7,126.8 L480.9,129.5 L482.0,132.3 L483.2,135.3 L484.3,138.5 L485.5,141.9 L486.6,145.4 L487.8,149.1 L488.9,153.0 L490.0,156.9 L491.2,161.1 L492.3,165.3 L493.5,169.7 L494.6,174.1 L495.8,178.7 L496.9,183.4 L498.1,188.1 L499.2,192.9 L500.4,197.8 L501.5,202.7 L502.7,207.7 L503.8,212.8 L505.0,217.8 L506.1,222.9 L507.3,228.1 L508.4,233.2 L509.6,238.3 L510.7,243.5 L511.8,248.6 L513.0,253.8 L514.1,258.9 L515.3,264.0 L516.4,269.2 L517.6,274.3 L518.7,279.4 L519.9,284.5 L521.0,289.6 L522.2,294.7 L523.3,299.8 L524.5,304.8 L525.6,309.9 L526.8,314.9 L527.9,320.0 L529.1,325.1 L530.2,330.1 L531.3,335.2 L532.5,340.2 L533.6,345.3 L534.8,350.3 L535.9,355.4 L537.1,360.4 L538.2,365.5 L539.4,370.5 L540.5,375.6 L541.7,380.7 L542.8,385.7 L544.0,390.8 L545.1,395.9 L546.3,400.9 L547.4,406.0 L548.6,411.1 L549.7,416.2 L550.8,421.3 L552.0,426.4 L553.1,431.5 L554.3,436.6 L555.4,441.7 L556.6,446.9 L557.7,452.0 L558.9,457.1 L560.0,462.3 L561.2,467.4 L562.3,472.6 L563.5,477.8 L564.6,483.0 L565.8,488.2 L566.9,493.4 L568.1,498.6 L569.2,503.8 L570.4,509.0 L571.5,514.3 L572.6,519.5 L573.8,524.8 L574.9,530.1 L576.1,535.4 L577.2,540.7 L578.4,546.0 L579.5,551.3 L580.7,556.6 L581.8,561.8 L583.0,567.1 L584.1,572.4 L585.3,577.7 L586.4,582.9 L587.6,588.1 L588.7,593.3 L589.9,598.5 L591.0,603.7 L592.1,608.8 L593.3,613.9 L594.4,618.9 L595.6,623.9 L596.7,628.9 L597.9,633.8 L599.0,638.7 L600.2,643.6 L601.3,648.3 L602.5,653.1 L603.6,657.8 L604.8,662.4 L605.9,666.9 L607.1,671.4 L608.2,675.8 L609.4,680.2 L610.5,684.4 L611.6,688.6 L612.8,692.7 L613.9,696.7 L615.1,700.6 L616.2,704.4 L617.4,708.1 L618.5,711.7 L619.7,715.1 L620.8,718.5 L622.0,721.7 L623.1,724.8 L624.3,727.8 L625.4,730.7 L626.6,733.5 L627.7,736.2 L628.9,738.9 L630.0,741.4 L631.2,743.9 L632.3,746.3 L633.4,748.7 L634.6,750.9 L635.7,753.2 L636.9,755.3 L638.0,757.5 L639.2,759.5 L640.3,761.5 L641.5,763.5 L642.6,765.4 L643.8,767.3 L644.9,769.1 L646.1,770.9 L647.2,772.7 L648.4,774.4 L649.5,776.1 L650.7,777.7 L651.8,779.4 L652.9,781.0 L654.1,782.6 L655.2,784.2 L656.4,785.7 L657.5,787.3 L658.7,788.8 L659.8,790.3 L661.0,791.8 L662.1,793.3 L663.3,794.8 L664.4,796.3 L665.6,797.8 L666.7,799.2 L667.9,800.7 L669.0,802.1 L670.2,803.5 L671.3,804.9 L672.4,806.3 L673.6,807.6 L674.7,808.9 L675.9,810.2 L677.0,811.5 L678.2,812.8 L679.3,814.0 L680.5,815.3 L681.6,816.4 L682.8,817.6 L683.9,818.7 L685.1,819.8 L686.2,820.9 L687.4,822.0 L688.5,823.0 L689.7,824.0 L690.8,824.9 L692.0,825.8 L693.1,826.7 L694.2,827.5 L695.4,828.3 L696.5,829.1 L697.7,829.8 L698.8,830.5 L700.0,831.2 L701.1,831.8 L702.3,832.4 L703.4,832.9 L704.6,833.3 L705.7,833.8 L706.9,834.2 L708.0,834.5 L709.2,834.8 L710.3,835.1 L711.5,835.3 L712.6,835.5 L713.7,835.7 L714.9,835.8 L716.0,835.9 L717.2,836.0 L718.3,836.1 L719.5,836.2 L720.6,836.2 L721.8,836.2 L722.9,836.2 L724.1,836.2 L725.2,836.2 L726.4,836.1 L727.5,836.1 L728.7,836.1 L729.8,836.0 L731.0,836.0 L732.1,836.0 L733.2,835.9 L734.4,835.9 L735.5,835.9 L736.7,835.8 L737.8,835.8 L739.0,835.8 L740.1,835.7 L741.3,835.7 L742.4,835.6 L743.6,835.6 L744.7,835.5 L745.9,835.5 L747.0,835.4 L748.2,835.4 L749.3,835.3 L750.5,835.2 L751.6,835.2 L752.7,835.1 L753.9,835.0 L755.0,834.9 L756.2,834.8 L757.3,834.8 L758.5,834.7 L759.6,834.6 L760.8,834.5 L761.9,834.3 L763.1,834.2 L764.2,834.1 L765.4,834.0 L766.5,833.8 L767.7,833.7 L768.8,833.6 L770.0,833.4 L771.1,833.2 L772.3,833.1 L773.4,832.9 L774.5,832.7 L775.7,832.5 L776.8,832.3 L778.0,832.1 L779.1,831.9 L780.3,831.7 L781.4,831.4 L782.6,831.2 L783.7,830.9 L784.9,830.7 L786.0,830.4 L787.2,830.1 L788.3,829.8 L789.5,829.5 L790.6,829.2 L791.8,828.9 L792.9,828.5 L794.0,828.2 L795.2,827.8 L796.3,827.5 L797.5,827.1 L798.6,826.7 L799.8,826.3 L800.9,825.9 L802.1,825.5 L803.2,825.0 L804.4,824.6 L805.5,824.1 L806.7,823.6 L807.8,823.1 L809.0,822.7 L810.1,822.1 L811.3,821.6 L812.4,821.1 L813.5,820.5 L814.7,820.0 L815.8,819.4 L817.0,818.8 L818.1,818.2 L819.3,817.6 L820.4,817.0 L821.6,816.4 L822.7,815.8 L823.9,815.1 L825.0,814.4 L826.2,813.8 L827.3,813.1 L828.5,812.4 L829.6,811.7 L830.8,810.9 L831.9,810.2 L833.1,809.4 L834.2,808.7 L835.3,807.9 L836.5,807.1 L837.6,806.3 L838.8,805.5 L839.9,804.7 L841.1,803.8 L842.2,803.0 L843.4,802.1 L844.5,801.3 L845.7,800.4 L846.8,799.5 L848.0,798.6 L849.1,797.6 L850.3,796.7 L851.4,795.7 L852.6,794.8 L853.7,793.8 L854.8,792.8 L856.0,791.8 L857.1,790.8 L858.3,789.8 L859.4,788.7 L860.6,787.7 L861.7,786.6 L862.9,785.5 L864.0,784.4 L865.2,783.3 L866.3,782.2 L867.5,781.0 L868.6,779.9 L869.8,778.7 L870.9,777.6 L872.1,776.4 L873.2,775.2 L874.3,774.0 L875.5,772.8 L876.6,771.5 L877.8,770.3 L878.9,769.0 L880.1,767.7 L881.2,766.5 L882.4,765.2 L883.5,763.9 L884.7,762.6 L885.8,761.2 L887.0,759.9 L888.1,758.6 L889.3,757.2 L890.4,755.9 L891.6,754.5 L892.7,753.1 L893.9,751.7 L895.0,750.3 L896.1,748.9 L897.3,747.5 L898.4,746.1 L899.6,744.7 L900.7,743.2 L901.9,741.8 L903.0,740.4 L904.2,738.9 L905.3,737.4 L906.5,736.0 L907.6,734.5 L908.8,733.0 L909.9,731.5 L911.1,730.0 L912.2,728.5 L913.4,727.0 L914.5,725.5 L915.6,724.0 L916.8,722.5 L917.9,721.0 L919.1,719.4 L920.2,717.9 L921.4,716.4 L922.5,714.8 L923.7,713.3 L924.8,711.8 L926.0,710.2 L927.1,708.7 L928.3,707.1 L929.4,705.6 L930.6,704.0 L931.7,702.5 L932.9,701.0 L934.0,699.4 L935.1,697.9 L936.3,696.3 L937.4,694.8 L938.6,693.2 L939.7,691.7 L940.9,690.1 L942.0,688.6 L943.2,687.0 L944.3,685.5 L945.5,684.0 L946.6,682.4 L947.8,680.9 L948.9,679.4 L950.1,677.8 L951.2,676.3 L952.4,674.8 L953.5,673.3 L954.7,671.8 L955.8,670.3 L956.9,668.8 L958.1,667.3 L959.2,665.8 L960.4,664.3 L961.5,662.8 L962.7,661.3 L963.8,659.9 L965.0,658.4 L966.1,657.0 L967.3,655.5 L968.4,654.1 L969.6,652.7 L970.7,651.2 L971.9,649.8 L973.0,648.4 L974.2,647.0 L975.3,645.6 L976.4,644.3 L977.6,642.9 L978.7,641.5 L979.9,640.2 L981.0,638.8 L982.2,637.5 L983.3,636.2 L984.5,634.9 L985.6,633.6 L986.8,632.3 L987.9,631.0 L989.1,629.8 L990.2,628.5 L991.4,627.3 L992.5,626.1 L993.7,624.9 L994.8,623.7 L995.9,622.5 L997.1,621.3 L998.2,620.2 L999.4,619.0 L1000.5,617.9 L1001.7,616.7 L1002.8,615.6 L1004.0,614.5 L1005.1,613.4 L1006.3,612.4 L1007.4,611.3 L1008.6,610.2 L1009.7,609.2 L1010.9,608.1 L1012.0,607.1 L1013.2,606.1 L1014.3,605.1 L1015.5,604.1 L1016.6,603.1 L1017.7,602.2 L1018.9,601.2 L1020.0,600.3 L1021.2,599.3 L1022.3,598.4 L1023.5,597.5 L1024.6,596.6 L1025.8,595.7 L1026.9,594.8 L1028.1,593.9 L1029.2,593.0 L1030.4,592.2 L1031.5,591.3 L1032.7,590.5 L1033.8,589.7 L1035.0,588.9 L1036.1,588.1 L1037.2,587.3 L1038.4,586.5 L1039.5,585.7 L1040.7,584.9 L1041.8,584.2 L1043.0,583.4 L1044.1,582.7 L1045.3,582.0 L1046.4,581.3 L1047.6,580.5 L1048.7,579.8 L1049.9,579.2 L1051.0,578.5 L1052.2,577.8 L1053.3,577.1 L1054.5,576.5 L1055.6,575.8 L1056.7,575.2 L1057.9,574.6 L1059.0,573.9 L1060.2,573.3 L1061.3,572.7 L1062.5,572.1 L1063.6,571.5 L1064.8,571.0 L1065.9,570.4 L1067.1,569.8 L1068.2,569.3 L1069.4,568.7 L1070.5,568.2 L1071.7,567.7 L1072.8,567.1 L1074.0,566.6 L1075.1,566.1 L1076.2,565.6 L1077.4,565.1 L1078.5,564.7 L1079.7,564.2 L1080.8,563.7 L1082.0,563.2 L1083.1,562.8 L1084.3,562.3 L1085.4,561.9 L1086.6,561.5 L1087.7,561.1 L1088.9,560.6 L1090.0,560.2 L1091.2,559.8 L1092.3,559.4 L1093.5,559.0 L1094.6,558.7 L1095.8,558.3 L1096.9,557.9 L1098.0,557.6 L1099.2,557.2 L1100.3,556.8 L1101.5,556.5 L1102.6,556.2 L1103.8,555.8 L1104.9,555.5 L1106.1,555.2 L1107.2,554.9 L1108.4,554.6 L1109.5,554.3 L1110.7,554.0 L1111.8,553.7 L1113.0,553.4 L1114.1,553.1 L1115.3,552.9 L1116.4,552.6 L1117.5,552.3 L1118.7,552.1 L1119.8,551.8 L1121.0,551.6 L1122.1,551.4 L1123.3,551.1 L1124.4,550.9 L1125.6,550.7 L1126.7,550.5 L1127.9,550.2 L1129.0,550.0 L1130.2,549.8 L1131.3,549.6 L1132.5,549.5 L1133.6,549.3 L1134.8,549.1 L1135.9,548.9 L1137.0,548.7 L1138.2,548.6 L1139.3,548.4 L1140.5,548.2 L1141.6,548.1 L1142.8,547.9 L1143.9,547.8 L1145.1,547.6 L1146.2,547.5 L1147.4,547.4 L1148.5,547.2 L1149.7,547.1 L1150.8,547.0 L1152.0,546.9 L1153.1,546.7 L1154.3,546.6 L1155.4,546.5 L1156.6,546.4 L1157.7,546.3 L1158.8,546.2 L1160.0,546.1 L1161.1,546.0 L1162.3,545.9 L1163.4,545.9 L1164.6,545.8 L1165.7,545.7 L1166.9,545.6 L1168.0,545.6 L1169.2,545.5 L1170.3,545.4 L1171.5,545.4 L1172.6,545.3 L1173.8,545.2 L1174.9,545.2 L1176.1,545.1 L1177.2,545.1 L1178.3,545.0 L1179.5,545.0 L1180.6,544.9 L1181.8,544.9 L1182.9,544.9 L1184.1,544.8 L1185.2,544.8 L1186.4,544.7 L1187.5,544.7 L1188.7,544.7 L1189.8,544.7 L1191.0,544.6 L1192.1,544.6 L1193.3,544.6 L1194.4,544.6 L1195.6,544.5 L1196.7,544.5 L1197.8,544.5 L1199.0,544.5 L1200.1,544.5 L1201.3,544.5 L1202.4,544.4 L1203.6,544.4 L1204.7,544.4 L1205.9,544.4 L1207.0,544.4 L1208.2,544.4 L1209.3,544.4 L1210.5,544.4 L1211.6,544.4 L1212.8,544.4 L1213.9,544.4 L1215.1,544.4 L1216.2,544.4 L1217.4,544.4 L1218.5,544.4 L1219.6,544.4 L1220.8,544.4 L1221.9,544.4 L1223.1,544.4 L1224.2,544.4 L1225.4,544.4 L1226.5,544.4 L1227.7,544.4 L1228.8,544.4 L1230.0,544.3 L1231.1,544.3 L1232.3,544.3 L1233.4,544.3 L1234.6,544.3 L1235.7,544.3 L1236.9,544.3 L1238.0,544.3" stroke="#00ff00" stroke-width="9.8"/>
</g>
<rect x="620.5" y="56.5" width="600" height="220.5" fill="#fff" stroke="#000" stroke-width="1"/>
<g fill="none" stroke-width="9.2">
<path d="M628,96.3H752" stroke="#0000ff" stroke-dasharray="35.5 45.75"/>
<path d="M628,167.1H752" stroke="#ff0000"/>
<path d="M628,238.4H752" stroke="#00ff00"/>
</g>
<text transform="translate(765.25,114.5) scale(1,1.055)" font-size="55" text-anchor="start" xml:space="preserve">Desired<tspan dx="-0.75"> joint</tspan><tspan dx="2.5"> Angle</tspan></text>
<text transform="translate(766,185.7) scale(1,1.055)" font-size="55" text-anchor="start" xml:space="preserve">Cascade<tspan dx="-3.1"> PID</tspan></text>
<text transform="translate(765.25,256.8) scale(1,1.055)" font-size="55" text-anchor="start" xml:space="preserve">Fuzzy  adaptive<tspan dx="-2.75"> PID</tspan></text>
<g fill="#000">
<rect x="704" y="305" width="254" height="318" fill="#fff"/>
<rect x="704" y="305" width="254" height="5"/>
<rect x="704" y="617" width="254" height="6"/>
<rect x="704" y="305" width="6" height="318"/>
<rect x="952" y="305" width="6" height="318"/>
<rect x="736.0" y="310" width="1" height="3"/>
<rect x="736.0" y="614" width="1" height="3"/>
<rect x="794.0" y="310" width="1" height="3"/>
<rect x="794.0" y="614" width="1" height="3"/>
<rect x="852.0" y="310" width="1" height="3"/>
<rect x="852.0" y="614" width="1" height="3"/>
<rect x="911.0" y="310" width="1" height="3"/>
<rect x="911.0" y="614" width="1" height="3"/>
<rect x="710" y="332.0" width="2" height="1"/>
<rect x="950" y="332.0" width="2" height="1"/>
<rect x="710" y="381.0" width="2" height="1"/>
<rect x="950" y="381.0" width="2" height="1"/>
<rect x="710" y="430.0" width="2" height="1"/>
<rect x="950" y="430.0" width="2" height="1"/>
<rect x="710" y="479.0" width="2" height="1"/>
<rect x="950" y="479.0" width="2" height="1"/>
<rect x="710" y="528.0" width="2" height="1"/>
<rect x="950" y="528.0" width="2" height="1"/>
<rect x="710" y="576.0" width="2" height="1"/>
<rect x="950" y="576.0" width="2" height="1"/>
</g>
<g clip-path="url(#in)" fill="none" stroke-width="6.3" shape-rendering="crispEdges">
<path d="M720.7,305 L785.6,625" stroke="#0000ff" stroke-dasharray="17 38.8" stroke-dashoffset="-34"/>
<path d="M745.7,305 L819.4,625" stroke="#00ff00"/>
<path d="M850.8,305 Q900,470 944.5,625" stroke="#ff0000"/>
</g>
<path d="M632.6,367.5 L671,377.7" stroke="#000" stroke-width="4.8" fill="none"/>
<path d="M703.3,387.3 L672.3,367.7 L667.8,389 Z" fill="#000"/>
<text transform="translate(206.75,979.5) scale(1,1.07)" font-size="71" text-anchor="middle" >0</text>
<text transform="translate(412.5,979.5) scale(1,1.07)" font-size="71" text-anchor="middle" >200</text>
<text transform="translate(618.5,979.5) scale(1,1.07)" font-size="71" text-anchor="middle" >400</text>
<text transform="translate(825.5,979.5) scale(1,1.07)" font-size="71" text-anchor="middle" >600</text>
<text transform="translate(1031.5,979.5) scale(1,1.07)" font-size="71" text-anchor="middle" >800</text>
<text transform="translate(1237.7,979.5) scale(1,1.07)" font-size="71" text-anchor="middle" letter-spacing="-1.1">1000</text>
<text transform="translate(189.5,120.6) scale(1,1.07)" font-size="71" text-anchor="end" >50</text>
<text transform="translate(187,344.8) scale(1,1.07)" font-size="71" text-anchor="end" >25</text>
<text transform="translate(189.3,567.8) scale(1,1.07)" font-size="71" text-anchor="end" >0</text>
<text transform="translate(197.8,792.8) scale(1,1.07)" font-size="71" text-anchor="end" >−25</text>
<text transform="translate(609,1049.5) scale(1,1.068)" font-size="70" text-anchor="start" >time(ms)</text>
<text transform="translate(71,710) rotate(-90) scale(1.05,1)" font-size="71">PID output(deg)</text>
</svg></body></html>
